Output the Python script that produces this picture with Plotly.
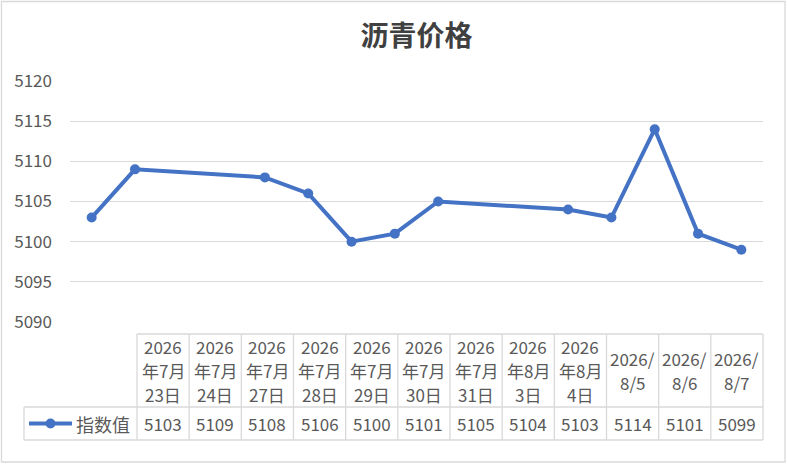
import plotly.graph_objects as go

# 数据
dates = ['2026-07-23', '2026-07-24', '2026-07-27', '2026-07-28', '2026-07-29', '2026-07-30',
         '2026-07-31', '2026-08-03', '2026-08-04', '2026-08-05', '2026-08-06', '2026-08-07']
date_labels = ['2026<br>年7月<br>23日', '2026<br>年7月<br>24日', '2026<br>年7月<br>27日',
               '2026<br>年7月<br>28日', '2026<br>年7月<br>29日', '2026<br>年7月<br>30日',
               '2026<br>年7月<br>31日', '2026<br>年8月<br>3日', '2026<br>年8月<br>4日',
               '2026/<br>8/5', '2026/<br>8/6', '2026/<br>8/7']
values = [5103, 5109, 5108, 5106, 5100, 5101, 5105, 5104, 5103, 5114, 5101, 5099]
series_name = '指数值'

W, H = 787, 464
L, R, T, B = 70, 763, 81, 322  # 绘图区像素边界
FONT = 'Noto Sans CJK SC'
BLUE = '#4472C4'
GRID = '#d9d9d9'
TXT = '#595959'
LH = 24  # 表格行距


def px(x):
    return (x - L) / (R - L)


def py(y):
    return (B - y) / (B - T)


def txt(x, y, text, size=17):
    return dict(xref='paper', yref='paper', x=px(x), y=py(y), text=text, showarrow=False,
                xanchor='center', yanchor='middle', align='center',
                font=dict(size=size, color=TXT, family=FONT))


fig = go.Figure()
fig.add_trace(go.Scatter(x=dates, y=values, mode='lines+markers', name=series_name,
                         line=dict(color=BLUE, width=4),
                         marker=dict(color=BLUE, size=10)))

shapes = []
annots = []

# 数据表
tx0, tx1 = 137, 763
cw = (tx1 - tx0) / len(values)
r0, r1, r2 = 334, 407, 440
line = dict(color=GRID, width=1.3)
shapes.append(dict(type='line', xref='paper', yref='paper', x0=px(tx0), x1=px(tx1), y0=py(r0), y1=py(r0), line=line))
for yy in (r1, r2):
    shapes.append(dict(type='line', xref='paper', yref='paper', x0=px(24), x1=px(tx1), y0=py(yy), y1=py(yy), line=line))
shapes.append(dict(type='line', xref='paper', yref='paper', x0=px(24), x1=px(24), y0=py(r1), y1=py(r2), line=line))
for i in range(len(values) + 1):
    xx = tx0 + i * cw
    shapes.append(dict(type='line', xref='paper', yref='paper', x0=px(xx), x1=px(xx), y0=py(r0), y1=py(r2), line=line))

for i, (lab, v) in enumerate(zip(date_labels, values)):
    cx = tx0 + (i + 0.5) * cw
    parts = lab.split('<br>')
    mid = (r0 + r1) / 2
    for j, p in enumerate(parts):
        annots.append(txt(cx, mid + (j - (len(parts) - 1) / 2) * LH, p))
    annots.append(txt(cx, (r1 + r2) / 2, str(v)))

# 图例键
ky = (r1 + r2) / 2
shapes.append(dict(type='line', xref='paper', yref='paper', x0=px(29), x1=px(72), y0=py(ky), y1=py(ky),
                   line=dict(color=BLUE, width=4)))
shapes.append(dict(type='circle', xref='paper', yref='paper', x0=px(45.5), x1=px(55.5), y0=py(ky + 5), y1=py(ky - 5),
                   fillcolor=BLUE, line=dict(color=BLUE, width=0)))
annots.append(txt(103, ky, series_name, size=18))

# 外框
shapes.append(dict(type='rect', xref='paper', yref='paper', x0=px(1.5), x1=px(785), y0=py(1.5), y1=py(462),
                   line=dict(color=GRID, width=1.3)))

fig.update_layout(
    width=W, height=H,
    margin=dict(l=L, r=W - R, t=T, b=H - B),
    paper_bgcolor='white', plot_bgcolor='white',
    showlegend=False,
    title=dict(text='<b>沥青价格</b>', x=0.5, xref='paper', xanchor='center', y=1 - 36 / H, yanchor='middle',
               font=dict(size=28, color='#404040', family=FONT)),
    xaxis=dict(type='date', range=['2026-07-22 12:00', '2026-08-07 12:00'],
               showticklabels=False, showgrid=False, zeroline=False),
    yaxis=dict(range=[5090, 5120], dtick=5, showgrid=True, gridcolor=GRID, gridwidth=1.3,
               zeroline=False, ticks='', ticklabelstandoff=17,
               tickfont=dict(size=17, color=TXT, family=FONT)),
    shapes=shapes,
    annotations=annots,
)

fig.write_html('out.html', config={'displayModeBar': False},
               post_script="document.body.style.margin='0';")
